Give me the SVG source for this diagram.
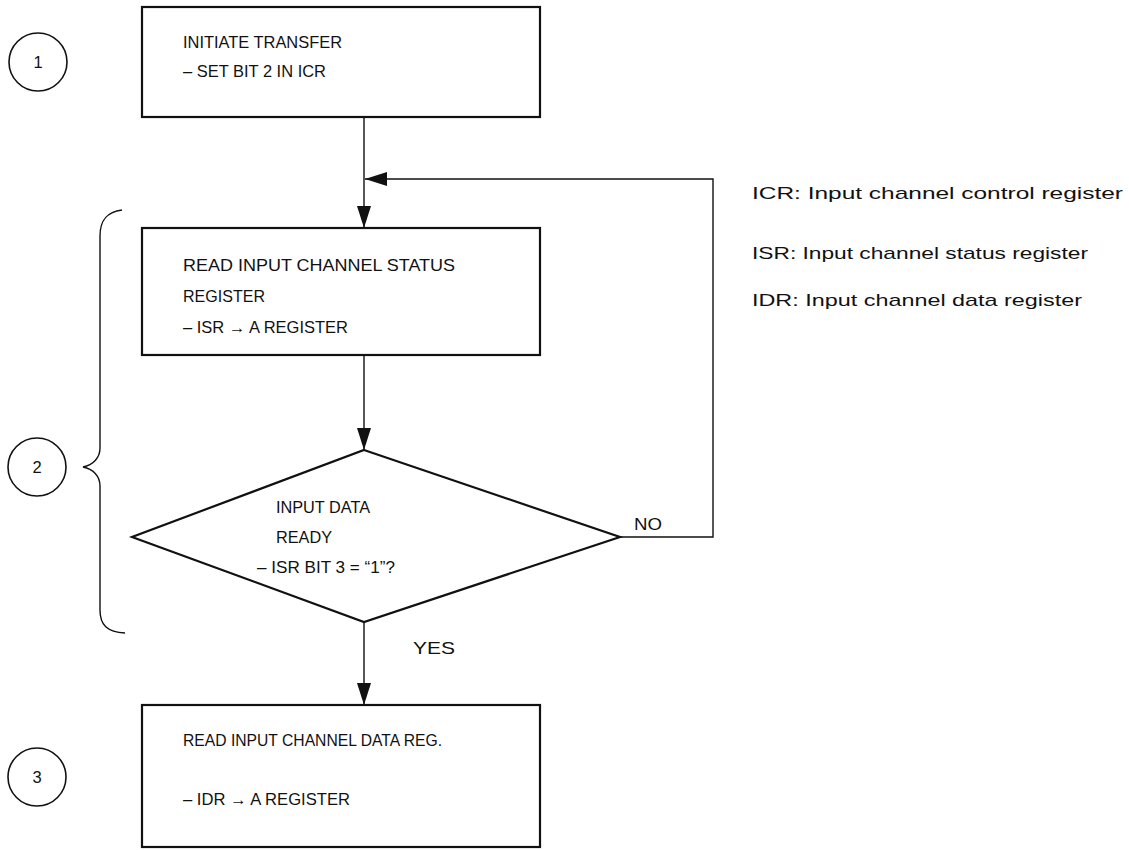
<svg xmlns="http://www.w3.org/2000/svg" width="1129" height="850" viewBox="0 0 1129 850">
<style>
text{font-family:"Liberation Sans",Arial,sans-serif;fill:#111}
.t{font-size:16.5px}
.lg{font-size:17px}
.box{fill:#fff;stroke:#111;stroke-width:2.2}
.circ{fill:none;stroke:#111;stroke-width:1.6}
.con{fill:none;stroke:#111;stroke-width:1.4}
</style>
<defs>
<marker id="ah" markerUnits="userSpaceOnUse" markerWidth="24" markerHeight="16" refX="22" refY="7" orient="auto">
<path d="M0,0 L22,7 L0,14 Z" fill="#111"/>
</marker>
</defs>
<rect width="1129" height="850" fill="#fff"/>

<g id="connectors">
<line class="con" x1="364" y1="117" x2="364" y2="228" marker-end="url(#ah)"/>
<polyline class="con" points="620,537 713,537 713,179 365,179" marker-end="url(#ah)"/>
<line class="con" x1="364" y1="355" x2="364" y2="450" marker-end="url(#ah)"/>
<line class="con" x1="364" y1="622" x2="364" y2="705" marker-end="url(#ah)"/>
<text class="t" x="634" y="530" textLength="28" lengthAdjust="spacingAndGlyphs">NO</text>
<text class="t" x="413" y="654" textLength="42" lengthAdjust="spacingAndGlyphs">YES</text>
</g>

<g id="label1">
<circle class="circ" cx="38" cy="62" r="29"/>
<text class="t" x="38" y="68" text-anchor="middle">1</text>
</g>

<g id="label2">
<circle class="circ" cx="37" cy="467" r="29"/>
<text class="t" x="37" y="473" text-anchor="middle">2</text>
<path class="con" d="M122,210 C106,212 100,221 100,236 L100,448 C100,458 93,465 83,467 C93,469 100,476 100,486 L100,610 C100,625 107,632 125,633"/>
</g>

<g id="label3">
<circle class="circ" cx="37" cy="777" r="29"/>
<text class="t" x="37" y="783" text-anchor="middle">3</text>
</g>

<g id="node1">
<rect class="box" x="142" y="7" width="398" height="110"/>
<text class="t" x="183" y="48" textLength="159" lengthAdjust="spacingAndGlyphs">INITIATE TRANSFER</text>
<text class="t" x="183" y="77" textLength="143" lengthAdjust="spacingAndGlyphs">– SET BIT 2 IN ICR</text>
</g>

<g id="node2">
<rect class="box" x="142" y="228" width="398" height="127"/>
<text class="t" x="183" y="271" textLength="272" lengthAdjust="spacingAndGlyphs">READ INPUT CHANNEL STATUS</text>
<text class="t" x="183" y="302" textLength="82" lengthAdjust="spacingAndGlyphs">REGISTER</text>
<text class="t" x="183" y="333" textLength="165" lengthAdjust="spacingAndGlyphs">– ISR → A REGISTER</text>
</g>

<g id="decision">
<polygon class="box" points="364,450 620,537 364,622 132,537"/>
<text class="t" x="276" y="513" textLength="94" lengthAdjust="spacingAndGlyphs">INPUT DATA</text>
<text class="t" x="276" y="543" textLength="56" lengthAdjust="spacingAndGlyphs">READY</text>
<text class="t" x="257" y="573" textLength="138" lengthAdjust="spacingAndGlyphs">– ISR BIT 3 = “1”?</text>
</g>

<g id="node3">
<rect class="box" x="142" y="705" width="398" height="142"/>
<text class="t" x="183" y="746" textLength="259" lengthAdjust="spacingAndGlyphs">READ INPUT CHANNEL DATA REG.</text>
<text class="t" x="183" y="805" textLength="167" lengthAdjust="spacingAndGlyphs">– IDR → A REGISTER</text>
</g>

<g id="legend">
<text class="lg" x="752" y="199" textLength="371" lengthAdjust="spacingAndGlyphs">ICR:  Input channel control register</text>
<text class="lg" x="752" y="259" textLength="336" lengthAdjust="spacingAndGlyphs">ISR: Input channel status register</text>
<text class="lg" x="752" y="306" textLength="330" lengthAdjust="spacingAndGlyphs">IDR:  Input channel data register</text>
</g>
</svg>
